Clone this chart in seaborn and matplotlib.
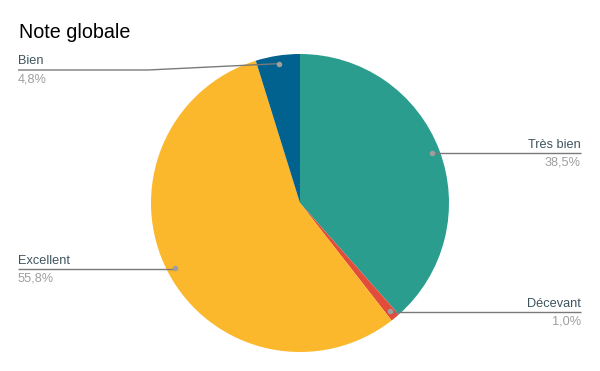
import matplotlib
matplotlib.use("Agg")
import matplotlib.pyplot as plt
import seaborn as sns
import numpy as np

# ---- data ----
categories = ["Très bien", "Décevant", "Excellent", "Bien"]
values = [38.5, 1.0, 55.8, 4.8]
pct_labels = ["38,5%", "1,0%", "55,8%", "4,8%"]
title = "Note globale"

# ---- style ----
sns.set_theme(style="white")
plt.rcParams['font.family'] = ['Liberation Sans', 'DejaVu Sans']
palette = sns.color_palette(["#2a9d8f", "#e24d3b", "#fcb82c", "#01628f"])

W, H = 600, 371
fig = plt.figure(figsize=(6, 3.71), dpi=100)
ax = fig.add_axes([0, 0, 1, 1])

cx, cy_px, r = 300, 203, 149
cy = H - cy_px
wedges, _ = ax.pie(values, colors=palette, startangle=90, counterclock=False,
                   center=(cx, cy), radius=r, wedgeprops=dict(linewidth=0))
ax.set_xlim(0, W)
ax.set_ylim(0, H)
ax.set_aspect('equal')
ax.axis('off')

# layout for labels: (side, line y in px from top, elbow x)
layout = {
    "Très bien": ("right", 153.3, None),
    "Décevant": ("right", 312.3, None),
    "Excellent": ("left", 269.3, None),
    "Bien": ("left", 70.0, 148),
}
left_x, right_x = 18, 581
line_col = "#7a7a7a"
dot_col = "#9e9e9e"
name_col = "#3f535f"
pct_col = "#9e9e9e"

for w, name, pct in zip(wedges, categories, pct_labels):
    mid = np.deg2rad((w.theta1 + w.theta2) / 2)
    dx = cx + 0.946 * r * np.cos(mid)
    dy = cy + 0.946 * r * np.sin(mid)
    side, ly_px, ex = layout[name]
    ly = H - ly_px
    if ex is None:
        ex = dx
    end = left_x if side == "left" else right_x
    ax.plot([dx, ex, end], [dy, ly, ly], color=line_col, lw=1.0, zorder=3,
            solid_capstyle='butt')
    ax.plot([dx], [dy], 'o', ms=4, color=dot_col, zorder=4, mec='none')
    ha = "left" if side == "left" else "right"
    ax.text(end, ly + 2.5, name, ha=ha, va="bottom", fontsize=9.2, color=name_col)
    ax.text(end, ly - 3.5, pct, ha=ha, va="top", fontsize=9.2, color=pct_col)

fig.text(19 / W, 1 - 38 / H, title, ha="left", va="baseline", fontsize=14.2, color="#000000")

fig.savefig("out.png", dpi=100)
